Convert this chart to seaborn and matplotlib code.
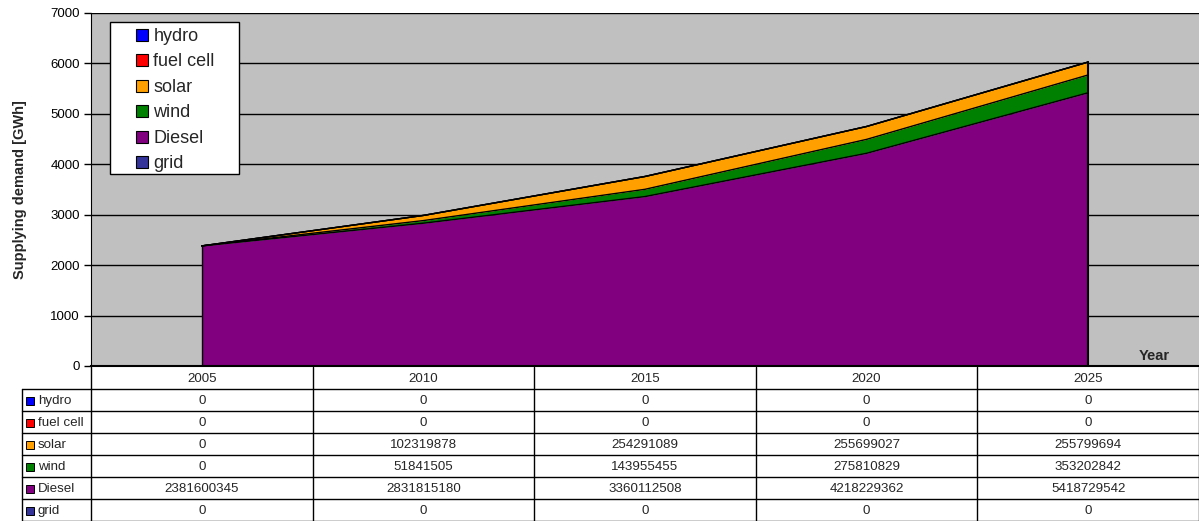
import matplotlib
matplotlib.use("Agg")
import matplotlib.pyplot as plt
from matplotlib.patches import Patch, Rectangle
import seaborn as sns
import numpy as np
import pandas as pd

# data (kWh, as in the table)
years = ["2005", "2010", "2015", "2020", "2025"]
hydro = [0, 0, 0, 0, 0]
fuel_cell = [0, 0, 0, 0, 0]
solar = [0, 102319878, 254291089, 255699027, 255799694]
wind = [0, 51841505, 143955455, 275810829, 353202842]
diesel = [2381600345, 2831815180, 3360112508, 4218229362, 5418729542]
grid = [0, 0, 0, 0, 0]

series_names = ["hydro", "fuel cell", "solar", "wind", "Diesel", "grid"]
series_vals = [hydro, fuel_cell, solar, wind, diesel, grid]
series_colors = ["#0000FF", "#FF0000", "#FFA000", "#008000", "#800080", "#333399"]


def main():
    sns.set_style("white")
    plt.rcParams["font.family"] = ["Liberation Sans", "DejaVu Sans"]

    W, H = 1199, 521
    fig = plt.figure(figsize=(W / 100, H / 100), dpi=100)

    # plot area in pixels
    px0, px1, py0, py1 = 91, 1199, 13, 366
    aw, ah = px1 - px0, py1 - py0
    ax = fig.add_axes([px0 / W, 1 - py1 / H, aw / W, ah / H])
    ax.set_facecolor("#C0C0C0")

    def ax_frac(xp, yp):
        return (xp - px0) / aw, 1 - (yp - py0) / ah

    x = np.arange(len(years))
    # stack from bottom: grid, Diesel, wind, solar, fuel cell, hydro
    order = list(range(len(series_names)))[::-1]
    base = np.zeros(len(years))
    long_rows = []
    for i in order:
        vals = np.array(series_vals[i]) / 1e6
        top = base + vals
        ax.fill_between(x, base, top, color=series_colors[i], lw=0, zorder=2)
        for xi, yi in zip(x, top):
            long_rows.append({"x": xi, "y": yi, "series": series_names[i]})
        base = top
    df = pd.DataFrame(long_rows)
    sns.lineplot(data=df, x="x", y="y", units="series", estimator=None,
                 color="black", lw=1, ax=ax, zorder=3, legend=False)
    ax.plot([x[0], x[0]], [0, base[0]], color="black", lw=1, zorder=3)
    ax.plot([x[-1], x[-1]], [0, base[-1]], color="black", lw=1.5, zorder=3)

    ax.set_xlim(-0.5, len(years) - 0.5)
    ax.set_ylim(0, 7000)
    ax.set_yticks(range(0, 7001, 1000))
    ax.yaxis.grid(True, color="black", lw=1)
    ax.set_axisbelow(True)
    ax.set_xticks([])
    ax.tick_params(axis="y", direction="out", length=5, width=1, left=True,
                   labelsize=9.5, pad=3, colors="black")
    for s in ["top", "right"]:
        ax.spines[s].set_visible(False)
    ax.spines["left"].set_color("black")
    ax.spines["bottom"].set_color("black")
    ax.spines["bottom"].set_linewidth(1.5)
    ax.set_xlabel("")
    ax.set_ylabel("Supplying demand [GWh]", fontsize=10.5, fontweight="bold",
                  labelpad=17)
    ax.text(*ax_frac(1170, 363), "Year", transform=ax.transAxes, ha="right",
            va="bottom", fontsize=10.5, fontweight="bold")

    # legend: white box with black border, entries inside
    bx0, by0 = ax_frac(110, 174)
    bx1, by1 = ax_frac(239, 22)
    ax.add_patch(Rectangle((bx0, by0), bx1 - bx0, by1 - by0,
                           transform=ax.transAxes, facecolor="white",
                           edgecolor="black", lw=1, zorder=4))
    handles = [Patch(facecolor=c, edgecolor="black", lw=0.8)
               for c in series_colors]
    leg = ax.legend(handles, series_names, loc="upper left",
                    bbox_to_anchor=ax_frac(136, 28),
                    fontsize=13, frameon=False, borderpad=0,
                    handlelength=0.66, handleheight=0.66, handletextpad=0.3,
                    labelspacing=0.47, borderaxespad=0)
    leg.set_zorder(5)

    # data table
    tx0, tx1, ty0, ty1 = 22, 1199, 367, 521
    tax = fig.add_axes([0, 0, 1, 1])
    tax.set_xlim(0, W)
    tax.set_ylim(H, 0)
    tax.axis("off")
    row_h = (ty1 - ty0) / 7
    col_w = aw / len(years)
    lc = "black"
    for r in range(1, 8):
        yy = min(ty0 + r * row_h, H - 0.5)
        tax.plot([tx0, tx1 - 0.5], [yy, yy], color=lc, lw=1)
    tax.plot([tx0, tx0], [ty0 + row_h, H], color=lc, lw=1)
    for c in range(len(years) + 1):
        xx = min(px0 + c * col_w, W - 0.5)
        tax.plot([xx, xx], [ty0, H], color=lc, lw=1)
    fs = 9.6
    for c, yr in enumerate(years):
        tax.text(px0 + (c + 0.5) * col_w, ty0 + 0.5 * row_h + 1, yr,
                 ha="center", va="center", fontsize=fs)
    for r, name in enumerate(series_names):
        yc = ty0 + (r + 1.5) * row_h + 1
        tax.add_patch(Rectangle((tx0 + 4, yc - 4), 8, 8,
                                facecolor=series_colors[r],
                                edgecolor="black", lw=0.7))
        tax.text(tx0 + 16, yc, name, ha="left", va="center", fontsize=fs)
        for c in range(len(years)):
            tax.text(px0 + (c + 0.5) * col_w, yc, str(series_vals[r][c]),
                     ha="center", va="center", fontsize=fs)

    fig.savefig("out.png", dpi=100)


if __name__ == "__main__":
    main()
